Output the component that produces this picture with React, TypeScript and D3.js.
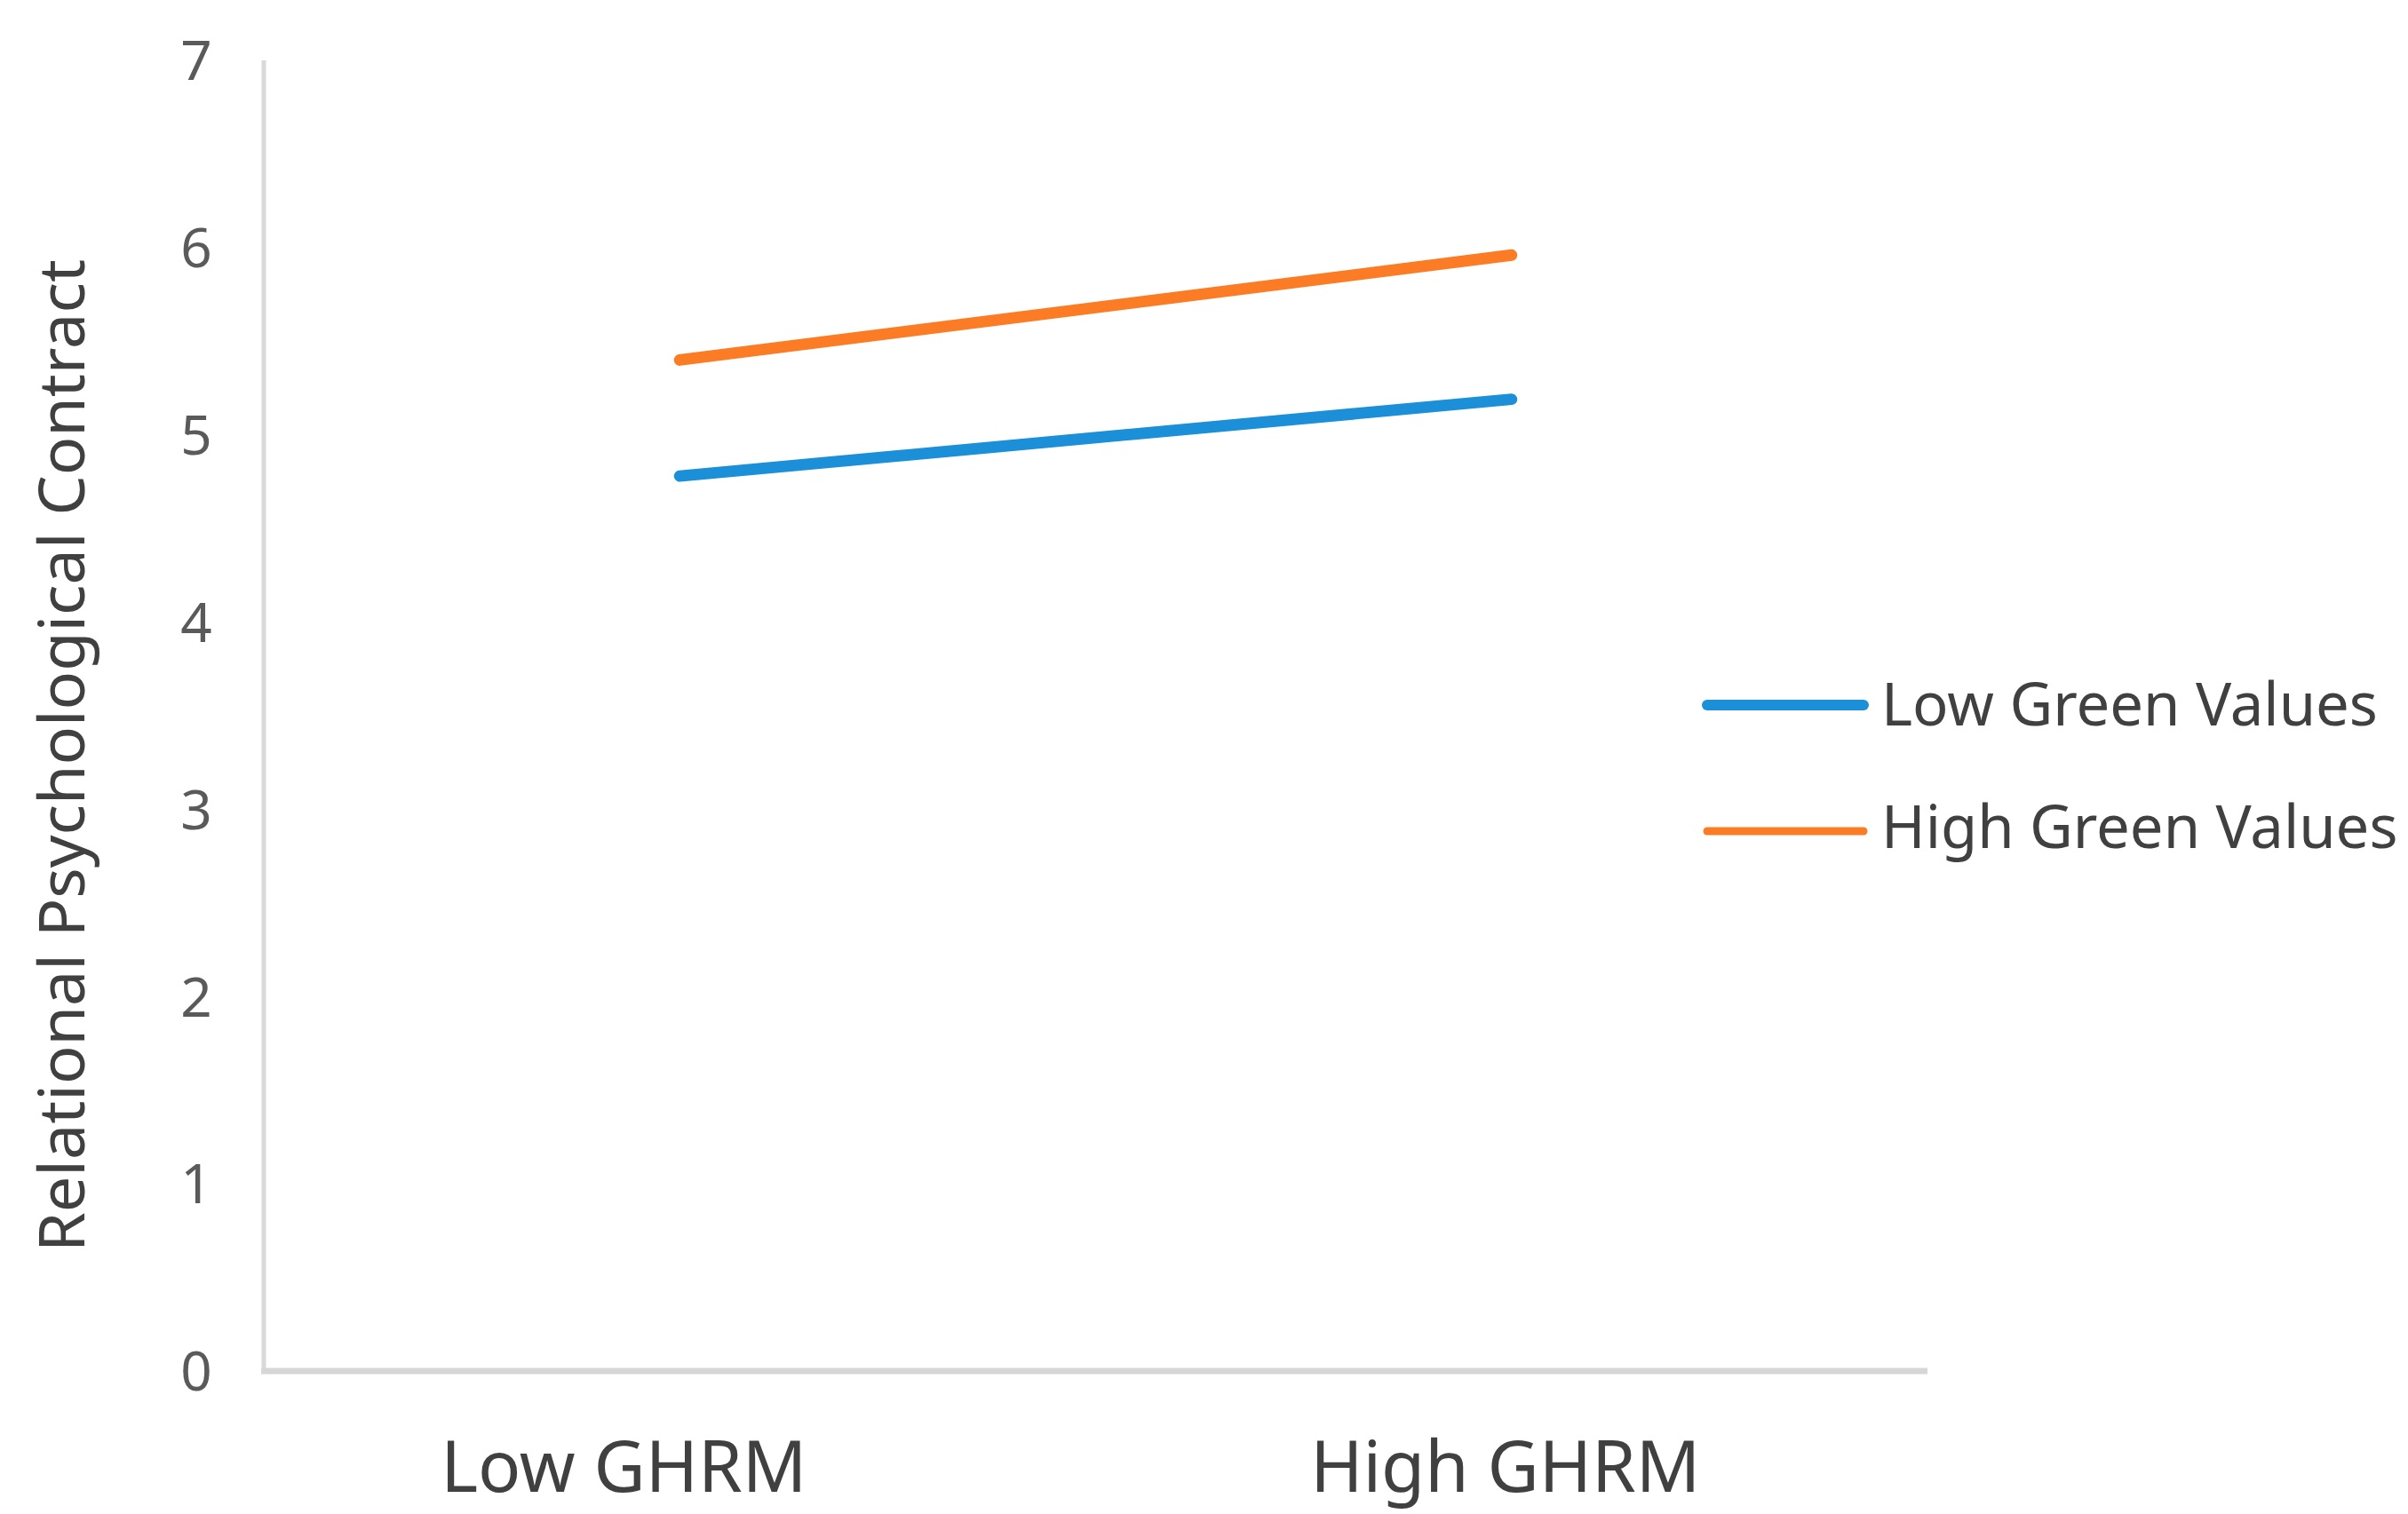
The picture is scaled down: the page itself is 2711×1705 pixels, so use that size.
import * as d3 from 'd3';

const categories = ['Low GHRM', 'High GHRM'];
const seriesNames = ['Low Green Values', 'High Green Values'];
const lowGreenValues = [4.78, 5.19];
const highGreenValues = [5.4, 5.96];
const yTicks = [0, 1, 2, 3, 4, 5, 6, 7];

const W = 2711;
const H = 1705;
const colors = ['#1b8fd7', '#fb7c25'];
const font = '"Noto Sans", "Open Sans", sans-serif';

export default function App() {
  const x = d3.scalePoint<string>().domain(categories).range([297, 2170]).padding(0.5);
  const y = d3.scaleLinear().domain([0, 7]).range([1544, 68]);
  const line = d3
    .line<number>()
    .x((_, i) => x(categories[i]) as number)
    .y((d) => y(d));

  const series = [lowGreenValues, highGreenValues];
  // the category labels sit a bit left of their points in the original
  const labelShift = [-63, -7];

  return (
    <div style={{ position: 'absolute', left: 0, top: 0 }}>
      <svg width={W} height={H} style={{ display: 'block', background: '#fff' }}>
        {/* axes */}
        <line x1={297} x2={297} y1={y(7)} y2={y(0)} stroke="#d9d9d9" strokeWidth={5} />
        <line x1={294} x2={2170} y1={y(0)} y2={y(0)} stroke="#d6d6d6" strokeWidth={7} />

        {yTicks.map((t) => (
          <text
            key={t}
            x={221}
            y={y(t)}
            dy="0.36em"
            textAnchor="middle"
            fontFamily={font}
            fontSize={62}
            fill="#5a5a5a"
          >
            {t}
          </text>
        ))}

        {categories.map((c, i) => (
          <text
            key={c}
            x={(x(c) as number) + labelShift[i]}
            y={1680}
            textAnchor="middle"
            fontFamily={font}
            fontSize={80}
            fill="#404040"
          >
            {c}
          </text>
        ))}

        <text
          transform={`translate(95, 851) rotate(-90)`}
          textAnchor="middle"
          fontFamily={font}
          fontSize={72}
          fill="#404040"
        >
          Relational Psychological Contract
        </text>

        {series.map((s, i) => (
          <path
            key={seriesNames[i]}
            d={line(s) ?? ''}
            fill="none"
            stroke={colors[i]}
            strokeWidth={13}
            strokeLinecap="round"
          />
        ))}

        {/* legend */}
        {seriesNames.map((n, i) => {
          const ly = 794 + i * 138;
          return (
            <g key={n}>
              <line
                x1={1922}
                x2={2098}
                y1={ly + i * 4}
                y2={ly + i * 4}
                stroke={colors[i]}
                strokeWidth={i === 0 ? 12 : 9}
                strokeLinecap="round"
              />
              <text
                x={2118}
                y={ly}
                dy="0.35em"
                fontFamily={font}
                fontSize={67}
                fill="#404040"
              >
                {n}
              </text>
            </g>
          );
        })}
      </svg>
    </div>
  );
}
